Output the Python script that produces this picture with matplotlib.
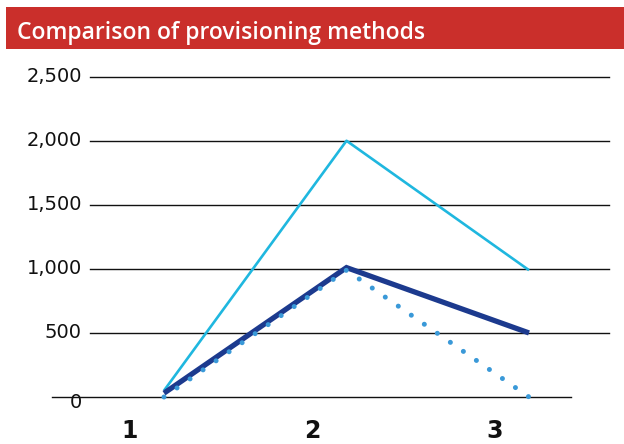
import matplotlib
matplotlib.use("Agg")
import matplotlib.pyplot as plt
import matplotlib.transforms as mtransforms
from matplotlib.patches import Rectangle

# Chart data
categories = ["1", "2", "3"]
x_pos = [1, 2, 3]
series_light = [50, 2000, 990]      # light blue line
series_navy = [30, 1010, 500]       # thick navy line
series_dotted = [0, 990, 0]         # dotted blue line
y_ticks = [0, 500, 1000, 1500, 2000, 2500]
y_tick_labels = ["0", "500", "1,000", "1,500", "2,000", "2,500"]
title = "Comparison of provisioning methods"

W, H, DPI = 624, 444, 100
fig = plt.figure(figsize=(W / DPI, H / DPI), dpi=DPI)
fig.patch.set_facecolor("white")

# Title banner
fig.patches.append(Rectangle((6 / W, 1 - 49.3 / H), (W - 6) / W, 42 / H,
                             transform=fig.transFigure, facecolor="#CA2F2B",
                             edgecolor="none", zorder=0))
fig.text(17 / W, 1 - 39 / H, title, color="white", fontsize=16.5,
         family="Open Sans", fontweight="semibold", ha="left", va="baseline")

# Plot area (pixel box: x 52..609, y 76.7..397)
left, right, top, bottom = 52, 609, 76.7, 397
ax = fig.add_axes([left / W, 1 - bottom / H, (right - left) / W, (bottom - top) / H])
ax.set_ylim(0, 2500)
px_per_unit = 182.5
x0_px = 164
ax.set_xlim(1 + (left - x0_px) / px_per_unit, 1 + (right - x0_px) / px_per_unit)
for s in ax.spines.values():
    s.set_visible(False)
ax.set_yticks([])

# Horizontal rules
for v in y_ticks:
    if v == 0:
        ax.axhline(v, xmin=0, xmax=(571 - left) / (right - left), color="#111111",
                   lw=1.0, clip_on=False, zorder=1)
    else:
        ax.axhline(v, xmin=(90 - left) / (right - left), xmax=1, color="#111111",
                   lw=1.0, clip_on=False, zorder=1)

# Y labels
trans = mtransforms.blended_transform_factory(ax.transAxes, ax.transData)
for v, lab in zip(y_ticks, y_tick_labels):
    off = mtransforms.ScaledTranslation(0, -5.5 / DPI if v == 0 else 0, fig.dpi_scale_trans)
    ax.text((82 - left) / (right - left), v, lab, transform=trans + off,
            ha="right", va="center", fontsize=14, color="#111111",
            family="DejaVu Sans")

# X labels
ax.set_xticks([x - 0.188 for x in x_pos])
ax.set_xticklabels(categories, fontsize=17, fontweight="bold", color="#111111",
                   family="DejaVu Sans")
ax.tick_params(axis="x", length=0, pad=16)

# Lines
ax.plot(x_pos, series_light, color="#1FB7DF", lw=1.9, solid_capstyle="butt",
        clip_on=False, zorder=3)
ax.plot(x_pos, series_navy, color="#1C3A8E", lw=3.8, solid_capstyle="butt",
        solid_joinstyle="miter", clip_on=False, zorder=4)
ax.plot(x_pos, series_dotted, color="#3A99D8", lw=3.6, linestyle=(0, (0.01, 3.16)),
        dash_capstyle="round", clip_on=False, zorder=5)

fig.savefig("out.png", dpi=DPI, facecolor="white")
